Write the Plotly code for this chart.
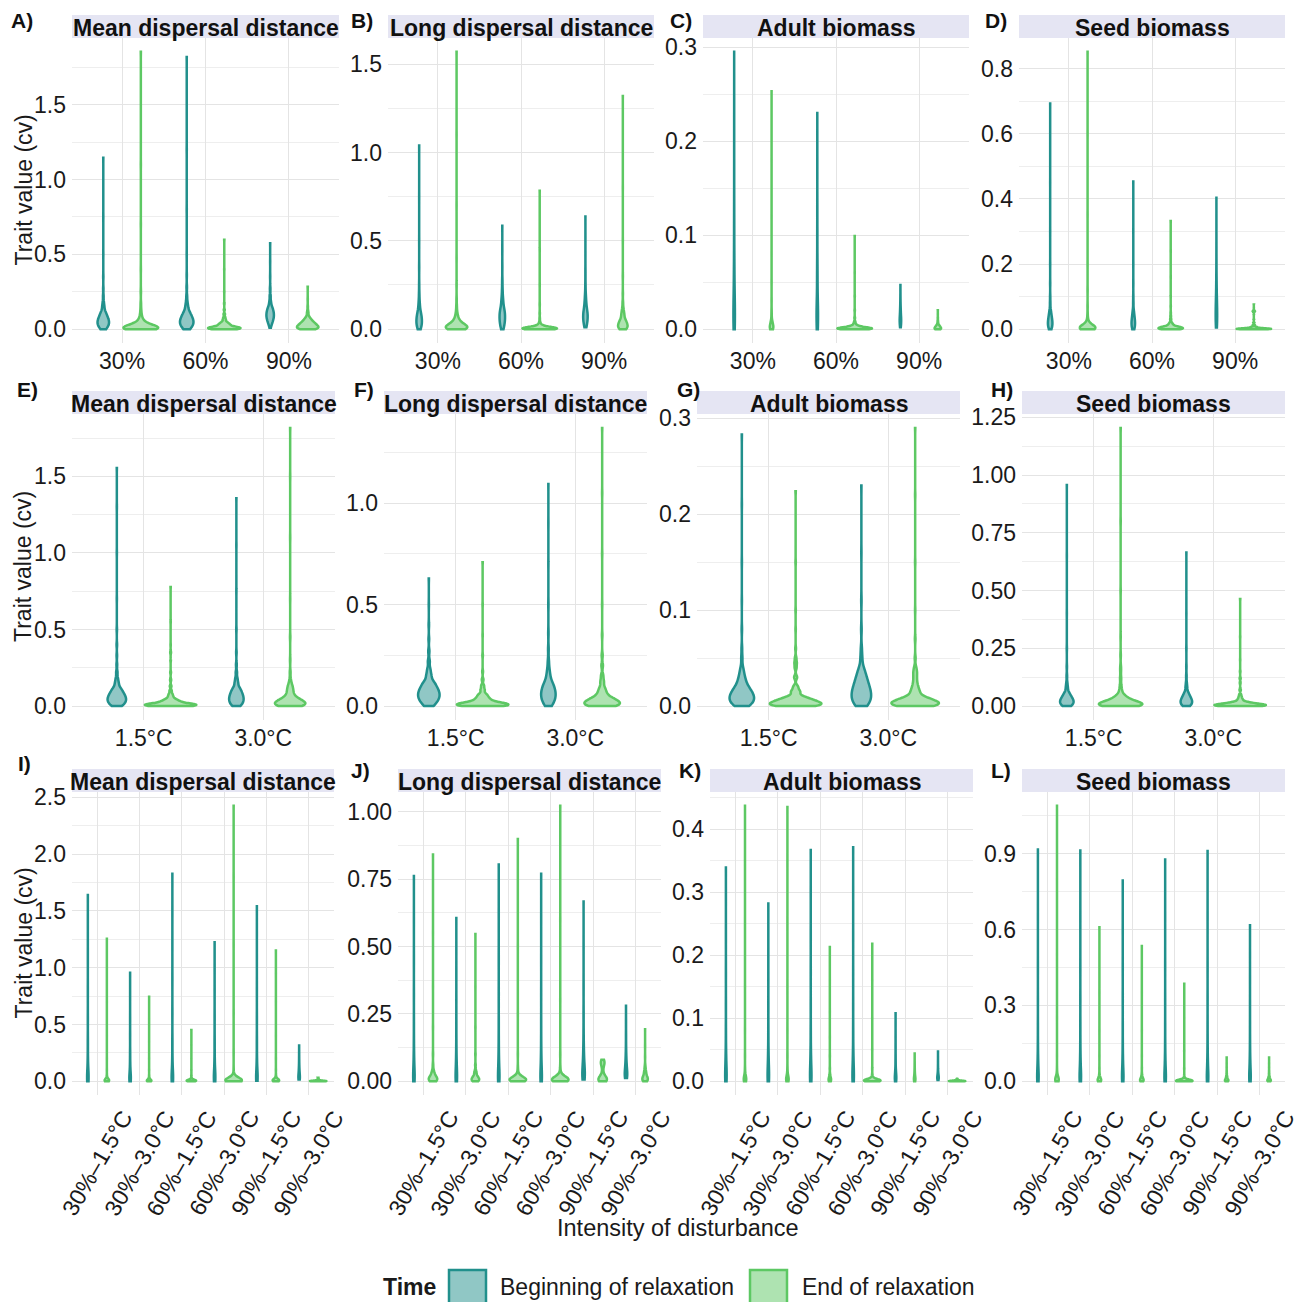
import numpy as np
import plotly.graph_objects as go

# ---------------------------------------------------------------- categories
DIST_CATS = ["30%", "60%", "90%"]
TEMP_CATS = ["1.5°C", "3.0°C"]
COMB_CATS = ["30%–1.5°C", "30%–3.0°C", "60%–1.5°C", "60%–3.0°C", "90%–1.5°C", "90%–3.0°C"]
TRAITS = ["Mean dispersal distance", "Long dispersal distance", "Adult biomass", "Seed biomass"]
TIMES = ["Beginning of relaxation", "End of relaxation"]

# ---------------------------------------------------------------- data: trait cv values (value levels + counts), one list per category
# Row 1 : disturbance intensity
A_BEGIN_VALS = [[0.00,0.02,0.04,0.06,0.08,0.10,0.12,0.15,0.18,0.22,0.27,0.35,0.5,0.75,1.146],
                [0.00,0.02,0.04,0.06,0.08,0.10,0.12,0.15,0.18,0.22,0.28,0.36,0.5,0.8,1.2,1.82],
                [0.01,0.03,0.05,0.07,0.09,0.11,0.13,0.15,0.18,0.22,0.27,0.35,0.45,0.575]]
A_BEGIN_CNTS = [[25,40,48,45,36,26,18,14,8,5,3,2,1,1,1],
                [25,40,48,46,38,28,20,15,9,6,4,2,1,1,1,1],
                [6,14,24,32,36,34,28,20,14,9,5,2,1,1]]
A_END_VALS = [[0,0.005,0.01,0.015,0.02,0.03,0.04,0.05,0.065,0.08,0.1,0.13,0.17,0.25,0.4,0.7,1.1,1.854],
              [0,0.005,0.01,0.015,0.02,0.03,0.04,0.05,0.065,0.08,0.1,0.13,0.17,0.25,0.4,0.597],
              [0,0.01,0.02,0.03,0.04,0.05,0.06,0.07,0.08,0.1,0.12,0.15,0.2,0.283]]
A_END_CNTS = [[60,55,40,28,20,24,14,9,8,6,5,4,3,2,1,1,1,1],
              [50,50,42,34,26,34,22,14,12,8,6,4,2,1,1,1],
              [40,42,38,32,26,20,15,11,8,7,4,2,1,1]]

B_BEGIN_VALS = [[0,0.02,0.04,0.06,0.08,0.1,0.13,0.16,0.2,0.25,0.35,0.5,0.75,1.04],
                [0,0.02,0.04,0.06,0.08,0.1,0.12,0.15,0.18,0.22,0.27,0.35,0.45,0.585],
                [0.01,0.03,0.05,0.07,0.09,0.11,0.14,0.17,0.2,0.25,0.32,0.42,0.52,0.638]]
B_BEGIN_CNTS = [[20,30,34,32,26,20,14,9,6,3,2,1,1,1],
                [14,22,28,30,30,27,22,17,12,8,5,2,1,1],
                [12,22,28,30,28,24,18,12,8,5,3,1,1,1]]
B_END_VALS = [[0,0.005,0.01,0.015,0.02,0.03,0.04,0.05,0.065,0.08,0.1,0.13,0.17,0.25,0.4,0.7,1.1,1.57],
              [0,0.002,0.004,0.006,0.008,0.01,0.015,0.02,0.03,0.04,0.06,0.09,0.14,0.25,0.45,0.784],
              [0,0.01,0.02,0.03,0.04,0.05,0.06,0.08,0.1,0.12,0.15,0.2,0.3,0.5,0.8,1.32]]
B_END_CNTS = [[45,48,42,34,26,32,22,15,12,9,7,5,3,2,1,1,1,1],
              [70,75,60,45,32,22,25,14,10,6,4,3,2,1,1,1],
              [30,34,32,28,24,20,16,22,14,9,6,3,2,1,1,1]]

C_BEGIN_VALS = [[0,0.01,0.02,0.03,0.05,0.07,0.1,0.13,0.17,0.21,0.25,0.295],
                [0,0.01,0.02,0.03,0.05,0.07,0.1,0.13,0.17,0.2,0.23],
                [0.002,0.005,0.008,0.011,0.014,0.018,0.022,0.027,0.033,0.04,0.047]]
C_BEGIN_CNTS = [[20,25,22,18,15,12,9,6,4,3,2,1],
                [20,25,22,18,15,12,8,5,3,2,1],
                [10,16,18,18,16,13,10,7,4,2,1]]
C_END_VALS = [[0,0.002,0.004,0.006,0.008,0.01,0.015,0.02,0.03,0.05,0.08,0.12,0.18,0.253],
              [0,0.0005,0.001,0.0015,0.002,0.003,0.004,0.006,0.008,0.012,0.02,0.035,0.06,0.099],
              [0,0.001,0.002,0.003,0.004,0.005,0.007,0.009,0.012,0.016,0.02]]
C_END_CNTS = [[40,38,30,22,15,10,8,5,3,2,1,1,1,1],
              [80,80,65,48,34,36,20,14,8,5,3,2,1,1],
              [40,38,32,24,17,11,8,5,3,1,1]]

D_BEGIN_VALS = [[0,0.01,0.02,0.03,0.04,0.05,0.06,0.08,0.1,0.14,0.2,0.3,0.45,0.693],
                [0,0.01,0.02,0.03,0.04,0.05,0.06,0.08,0.1,0.14,0.2,0.3,0.454],
                [0.005,0.02,0.04,0.06,0.08,0.1,0.13,0.16,0.2,0.25,0.32,0.404]]
D_BEGIN_CNTS = [[25,38,40,34,26,18,12,8,5,3,2,1,1,1],
                [25,38,40,34,26,18,12,8,5,3,2,1,1],
                [12,18,20,18,15,12,9,6,4,2,1,1]]
D_END_VALS = [[0,0.002,0.004,0.006,0.008,0.01,0.015,0.02,0.03,0.045,0.07,0.12,0.2,0.35,0.6,0.852],
              [0,0.002,0.004,0.006,0.008,0.01,0.015,0.02,0.03,0.04,0.05,0.07,0.1,0.16,0.24,0.332],
              [0,0.001,0.002,0.003,0.004,0.006,0.008,0.012,0.02,0.03,0.045,0.052,0.055,0.058,0.065,0.076]]
D_END_CNTS = [[50,50,40,30,22,16,18,10,7,4,3,2,1,1,1,1],
              [60,60,48,36,26,18,20,12,8,5,3,2,1,1,1,1],
              [80,80,60,42,28,30,16,10,6,3,2,5,10,5,1,1]]

# Row 2 : warming scenario
E_BEGIN_VALS = [[0,0.02,0.04,0.06,0.08,0.1,0.12,0.15,0.18,0.22,0.27,0.33,0.4,0.5,0.7,1.0,1.3,1.555],
                [0,0.02,0.04,0.06,0.08,0.1,0.12,0.15,0.18,0.22,0.27,0.35,0.5,0.75,1.05,1.356]]
E_BEGIN_CNTS = [[30,45,52,48,40,30,22,16,10,7,4,3,3,2,1,1,1,1],
                [28,42,48,46,40,32,24,18,12,8,5,3,2,1,1,1]]
E_END_VALS = [[0,0.005,0.01,0.015,0.02,0.03,0.04,0.05,0.065,0.08,0.1,0.13,0.17,0.22,0.3,0.35,0.4,0.55,0.777],
              [0,0.01,0.02,0.03,0.04,0.05,0.06,0.08,0.1,0.12,0.14,0.17,0.22,0.3,0.45,0.7,1.1,1.5,1.816]]
E_END_CNTS = [[60,62,50,40,30,36,25,16,14,10,8,6,4,3,2,3,1,1,1],
              [42,46,40,32,25,18,14,16,14,13,10,6,4,2,2,1,1,1,1]]

F_BEGIN_VALS = [[0,0.02,0.04,0.06,0.08,0.1,0.12,0.15,0.18,0.22,0.27,0.33,0.4,0.5,0.629],
                [0,0.02,0.04,0.06,0.08,0.1,0.12,0.15,0.18,0.22,0.28,0.36,0.5,0.7,0.9,1.095]]
F_BEGIN_CNTS = [[22,38,48,50,44,34,26,18,12,8,5,3,2,1,1],
                [22,36,44,46,42,34,26,18,12,8,5,3,2,1,1,1]]
F_END_VALS = [[0,0.005,0.01,0.015,0.02,0.03,0.04,0.05,0.06,0.08,0.1,0.13,0.17,0.25,0.35,0.5,0.709],
              [0,0.01,0.02,0.03,0.04,0.05,0.07,0.09,0.12,0.15,0.2,0.25,0.35,0.5,0.75,1.05,1.371]]
F_END_CNTS = [[60,62,50,38,28,30,22,18,16,14,10,6,3,2,1,1,1],
              [45,50,42,32,24,18,20,14,12,8,6,4,2,1,1,1,1]]

G_BEGIN_VALS = [[0,0.004,0.008,0.012,0.016,0.02,0.025,0.03,0.035,0.04,0.05,0.06,0.08,0.11,0.15,0.21,0.283],
                [0,0.005,0.01,0.015,0.02,0.025,0.03,0.035,0.04,0.05,0.06,0.08,0.11,0.16,0.23]]
G_BEGIN_CNTS = [[30,42,46,42,34,26,20,14,10,7,5,3,2,1,1,1,1],
                [28,38,42,40,34,28,22,17,12,8,5,3,2,1,1]]
G_END_VALS = [[0,0.002,0.004,0.006,0.008,0.01,0.015,0.02,0.03,0.04,0.045,0.05,0.06,0.08,0.1,0.15,0.224],
              [0,0.002,0.004,0.006,0.008,0.01,0.015,0.02,0.025,0.03,0.035,0.04,0.05,0.07,0.1,0.15,0.22,0.29]]
G_END_CNTS = [[55,58,48,36,27,20,22,12,8,5,6,4,2,1,1,1,1],
              [50,55,46,35,26,20,22,14,9,8,9,6,3,2,1,1,1,1]]

H_BEGIN_VALS = [[0,0.01,0.02,0.03,0.04,0.05,0.06,0.08,0.1,0.13,0.17,0.25,0.4,0.65,0.957],
                [0,0.01,0.02,0.03,0.04,0.05,0.06,0.08,0.1,0.13,0.17,0.25,0.4,0.665]]
H_BEGIN_CNTS = [[32,44,46,40,30,22,16,14,8,5,3,2,1,1,1],
                [32,44,46,40,30,22,16,14,8,5,3,2,1,1]]
H_END_VALS = [[0,0.005,0.01,0.015,0.02,0.03,0.04,0.05,0.07,0.09,0.12,0.15,0.17,0.22,0.3,0.5,0.8,1.204],
              [0,0.003,0.006,0.009,0.012,0.015,0.02,0.03,0.04,0.05,0.07,0.1,0.12,0.15,0.2,0.3,0.463]]
H_END_CNTS = [[55,55,44,34,25,28,17,11,8,5,5,3,3,2,1,1,1,1],
              [65,66,54,40,30,22,24,16,10,7,5,3,4,2,1,1,1]]

# Row 3 : disturbance x warming
I_BEGIN_VALS = [[0,0.02,0.05,0.1,0.2,0.35,0.55,0.8,1.1,1.4,1.64],
                [0,0.02,0.04,0.08,0.15,0.25,0.4,0.55,0.75,0.956],
                [0,0.02,0.05,0.1,0.2,0.35,0.6,0.9,1.2,1.5,1.828],
                [0,0.02,0.05,0.1,0.2,0.35,0.55,0.8,1.0,1.224],
                [0.005,0.02,0.05,0.1,0.2,0.35,0.55,0.8,1.1,1.3,1.54],
                [0.015,0.03,0.05,0.08,0.11,0.15,0.2,0.25,0.315]]
I_BEGIN_CNTS = [[12,14,12,10,7,5,3,2,1,1,1],
                [12,14,12,10,7,5,3,2,1,1],
                [12,14,12,10,7,5,3,2,1,1,1],
                [12,14,12,10,7,5,3,2,1,1],
                [12,14,12,10,7,5,3,2,1,1,1],
                [12,14,12,10,7,5,3,2,1]]
I_END_VALS = [[0,0.005,0.01,0.015,0.02,0.03,0.05,0.1,0.2,0.4,0.7,1.0,1.254],
              [0,0.005,0.01,0.015,0.02,0.03,0.05,0.1,0.2,0.35,0.55,0.743],
              [0,0.004,0.008,0.012,0.016,0.02,0.03,0.05,0.1,0.2,0.32,0.452],
              [0,0.004,0.008,0.012,0.016,0.02,0.03,0.05,0.1,0.25,0.6,1.2,1.8,2.426],
              [0,0.005,0.01,0.015,0.02,0.03,0.05,0.1,0.2,0.4,0.7,0.95,1.152],
              [0,0.002,0.004,0.006,0.008,0.01,0.014,0.018,0.022,0.026,0.03]]
I_END_CNTS = [[40,38,30,20,13,10,5,3,2,1,1,1,1],
              [40,38,30,20,13,10,5,3,2,1,1,1],
              [45,45,36,26,17,11,7,4,2,1,1,1],
              [50,50,40,28,18,12,7,4,2,1,1,1,1,1],
              [40,38,30,20,13,10,5,3,2,1,1,1,1],
              [40,40,30,20,12,8,5,4,4,3,2]]

J_BEGIN_VALS = [[0,0.01,0.02,0.04,0.07,0.1,0.15,0.22,0.32,0.45,0.6,0.761],
                [0,0.01,0.02,0.04,0.07,0.1,0.15,0.22,0.3,0.4,0.5,0.606],
                [0,0.01,0.02,0.04,0.07,0.1,0.15,0.22,0.32,0.45,0.62,0.804],
                [0,0.01,0.02,0.04,0.07,0.1,0.15,0.22,0.32,0.45,0.6,0.77],
                [0.006,0.015,0.03,0.05,0.07,0.1,0.13,0.18,0.25,0.35,0.5,0.667],
                [0.012,0.02,0.03,0.045,0.06,0.08,0.1,0.13,0.17,0.22,0.28]]
J_BEGIN_CNTS = [[14,16,16,14,11,8,6,4,3,2,1,1],
                [14,16,16,14,11,8,6,4,3,2,1,1],
                [14,16,16,14,11,8,6,4,3,2,1,1],
                [14,16,16,14,11,8,6,4,3,2,1,1],
                [14,16,16,14,11,8,6,4,3,2,1,1],
                [14,16,16,14,11,8,6,4,3,2,1]]
J_END_VALS = [[0,0.005,0.01,0.015,0.02,0.03,0.04,0.06,0.1,0.2,0.35,0.55,0.841],
              [0,0.005,0.01,0.015,0.02,0.03,0.04,0.06,0.1,0.2,0.35,0.546],
              [0,0.003,0.006,0.009,0.012,0.016,0.02,0.03,0.05,0.1,0.25,0.5,0.899],
              [0,0.003,0.006,0.009,0.012,0.016,0.02,0.03,0.05,0.1,0.3,0.6,1.022],
              [0,0.005,0.01,0.015,0.02,0.03,0.04,0.05,0.06,0.065,0.07,0.075,0.08],
              [0,0.005,0.01,0.015,0.02,0.03,0.04,0.05,0.06,0.09,0.13,0.193]]
J_END_CNTS = [[35,36,32,26,20,22,12,7,4,2,1,1,1],
              [35,36,32,26,20,22,12,7,4,2,1,1],
              [50,52,44,34,25,18,12,8,4,2,1,1,1],
              [50,52,44,34,25,18,12,8,4,2,1,1,1],
              [30,30,24,16,10,6,4,5,8,10,12,10,6],
              [30,32,30,26,22,26,16,10,6,3,2,1]]

K_BEGIN_VALS = [[0,0.005,0.01,0.02,0.035,0.05,0.08,0.12,0.17,0.23,0.29,0.339],
                [0,0.005,0.01,0.02,0.035,0.05,0.08,0.12,0.16,0.2,0.24,0.282],
                [0,0.005,0.01,0.02,0.035,0.05,0.08,0.12,0.17,0.23,0.3,0.367],
                [0,0.005,0.01,0.02,0.035,0.05,0.08,0.12,0.17,0.23,0.3,0.371],
                [0,0.003,0.006,0.01,0.015,0.02,0.03,0.04,0.055,0.07,0.09,0.108],
                [0.002,0.004,0.006,0.008,0.01,0.013,0.016,0.02,0.025,0.031,0.038,0.047]]
K_BEGIN_CNTS = [[14,16,16,14,11,8,6,4,3,2,1,1]] * 6
K_END_VALS = [[0,0.002,0.004,0.006,0.008,0.012,0.02,0.04,0.08,0.15,0.25,0.35,0.437],
              [0,0.002,0.004,0.006,0.008,0.012,0.02,0.04,0.08,0.15,0.25,0.35,0.435],
              [0,0.002,0.004,0.006,0.008,0.012,0.02,0.04,0.07,0.11,0.16,0.213],
              [0,0.0005,0.001,0.0015,0.002,0.003,0.004,0.006,0.01,0.02,0.05,0.1,0.16,0.218],
              [0,0.002,0.004,0.006,0.009,0.012,0.016,0.02,0.025,0.03,0.037,0.044],
              [0,0.0003,0.0006,0.0009,0.0012,0.0016,0.002,0.0025,0.003,0.0035,0.004]]
K_END_CNTS = [[30,30,26,20,15,12,8,5,3,2,1,1,1],
              [30,30,26,20,15,12,8,5,3,2,1,1,1],
              [30,30,26,20,15,12,8,5,3,2,1,1],
              [60,60,48,36,26,24,14,10,6,3,2,1,1,1],
              [14,16,16,14,11,8,6,4,3,2,1,1],
              [40,40,32,24,16,12,8,6,4,4,3]]

L_BEGIN_VALS = [[0,0.01,0.02,0.04,0.07,0.1,0.15,0.22,0.32,0.45,0.65,0.916],
                [0,0.01,0.02,0.04,0.07,0.1,0.15,0.22,0.32,0.45,0.65,0.912],
                [0,0.01,0.02,0.04,0.07,0.1,0.15,0.22,0.32,0.45,0.6,0.794],
                [0,0.01,0.02,0.04,0.07,0.1,0.15,0.22,0.32,0.45,0.65,0.877],
                [0,0.01,0.02,0.04,0.07,0.1,0.15,0.22,0.32,0.45,0.65,0.91],
                [0,0.01,0.02,0.04,0.07,0.1,0.15,0.22,0.3,0.4,0.5,0.617]]
L_BEGIN_CNTS = [[14,16,16,14,11,8,6,4,3,2,1,1]] * 6
L_END_VALS = [[0,0.003,0.006,0.01,0.015,0.02,0.03,0.05,0.1,0.25,0.5,0.8,1.089],
              [0,0.003,0.006,0.01,0.015,0.02,0.03,0.05,0.1,0.2,0.35,0.609],
              [0,0.003,0.006,0.01,0.015,0.02,0.03,0.05,0.1,0.2,0.35,0.535],
              [0,0.001,0.002,0.003,0.004,0.006,0.008,0.012,0.02,0.05,0.12,0.25,0.385],
              [0,0.003,0.006,0.01,0.015,0.02,0.03,0.04,0.055,0.07,0.094],
              [0,0.003,0.006,0.01,0.015,0.02,0.03,0.04,0.055,0.07,0.094]]
L_END_CNTS = [[35,36,32,26,20,14,9,5,3,2,1,1,1],
              [35,36,32,26,20,14,9,5,3,2,1,1],
              [35,36,32,26,20,14,9,5,3,2,1,1],
              [60,60,48,36,26,24,14,10,6,3,2,1,1],
              [35,36,32,26,20,14,9,5,3,2,1],
              [35,36,32,26,20,14,9,5,3,2,1]]

# ---------------------------------------------------------------- style: violin max widths (px, incl. outline)
A_W = ([14, 16, 10], [37, 35, 24])
B_W = ([8, 8, 7], [24, 37, 12])
C_W = ([4, 4, 4], [6, 37, 9])
D_W = ([7, 6, 4], [18, 27, 37])
E_W = ([21, 17], [54, 33])
F_W = ([24, 17], [54, 38])
G_W = ([27, 22], [54, 50])
H_W = ([16, 14], [46, 54])
I_W = ([4, 4, 4, 4, 4, 4], [7, 7, 12, 19, 9, 19])
J_W = ([4, 4, 4, 4, 5, 5], [11, 10, 19, 19, 11, 8])
K_W = ([4, 4, 4, 4, 4, 4], [5, 5, 5, 19, 4, 19])
L_W = ([4, 4, 4, 4, 4, 4], [6, 6, 6, 19, 6, 6])

# ---------------------------------------------------------------- style / layout
WIDTH, HEIGHT = 1300, 1302
FONT = "Liberation Sans, Arial, Helvetica, sans-serif"
TXT = "#1a1a1a"
TEAL, GREEN = "#21908C", "#5DC863"
TEAL_FILL, GREEN_FILL = "rgba(33,144,140,0.5)", "rgba(93,200,99,0.5)"
STRIP_BG = "#e5e5f3"
GRID = "#e4e4e4"
MINOR_GRID = "#eeeeee"
LINE_W = 2.5
TICK_SIZE = 23

ROW_Y = [(38, 343), (414, 720), (792, 1095)]
COL_X = [[(72, 339), (388, 654), (703, 969), (1019, 1285)],
         [(72, 335), (384, 647), (697, 960), (1022, 1285)],
         [(72, 334), (398, 661), (710, 973), (1022, 1285)]]
STRIP_H = 23
LETTER_POS = [[(22, 21), (362, 21), (681, 21), (996, 21)],
              [(27, 389), (364, 389), (688, 389), (1002, 389)],
              [(24, 763), (360, 770), (690, 770), (1001, 770)]]

PANELS = [
    ("A", 0, DIST_CATS, A_BEGIN_VALS, A_BEGIN_CNTS, A_END_VALS, A_END_CNTS, A_W, 0.5, ".1f"),
    ("B", 1, DIST_CATS, B_BEGIN_VALS, B_BEGIN_CNTS, B_END_VALS, B_END_CNTS, B_W, 0.5, ".1f"),
    ("C", 2, DIST_CATS, C_BEGIN_VALS, C_BEGIN_CNTS, C_END_VALS, C_END_CNTS, C_W, 0.1, ".1f"),
    ("D", 3, DIST_CATS, D_BEGIN_VALS, D_BEGIN_CNTS, D_END_VALS, D_END_CNTS, D_W, 0.2, ".1f"),
    ("E", 0, TEMP_CATS, E_BEGIN_VALS, E_BEGIN_CNTS, E_END_VALS, E_END_CNTS, E_W, 0.5, ".1f"),
    ("F", 1, TEMP_CATS, F_BEGIN_VALS, F_BEGIN_CNTS, F_END_VALS, F_END_CNTS, F_W, 0.5, ".1f"),
    ("G", 2, TEMP_CATS, G_BEGIN_VALS, G_BEGIN_CNTS, G_END_VALS, G_END_CNTS, G_W, 0.1, ".1f"),
    ("H", 3, TEMP_CATS, H_BEGIN_VALS, H_BEGIN_CNTS, H_END_VALS, H_END_CNTS, H_W, 0.25, ".2f"),
    ("I", 0, COMB_CATS, I_BEGIN_VALS, I_BEGIN_CNTS, I_END_VALS, I_END_CNTS, I_W, 0.5, ".1f"),
    ("J", 1, COMB_CATS, J_BEGIN_VALS, J_BEGIN_CNTS, J_END_VALS, J_END_CNTS, J_W, 0.25, ".2f"),
    ("K", 2, COMB_CATS, K_BEGIN_VALS, K_BEGIN_CNTS, K_END_VALS, K_END_CNTS, K_W, 0.1, ".1f"),
    ("L", 3, COMB_CATS, L_BEGIN_VALS, L_BEGIN_CNTS, L_END_VALS, L_END_CNTS, L_W, 0.3, ".1f"),
]

DODGE = 0.225


def px_x(v):
    return v / WIDTH


def px_y(v):
    return 1 - v / HEIGHT


fig = go.Figure()
layout = {}
annotations = []
shapes = []

for k, (letter, trait_i, cats, bv, bc, ev, ec, widths, dtick, fmt) in enumerate(PANELS):
    row = k // 4
    col = k % 4
    idx = k + 1
    xname = "x" if idx == 1 else f"x{idx}"
    yname = "y" if idx == 1 else f"y{idx}"
    left, right = COL_X[row][col]
    top, bottom = ROW_Y[row]
    n = len(cats)
    ppu = (right - left) / (n + 0.2)

    all_vals = []
    groups = [(bv, bc, widths[0], TEAL, TEAL_FILL, -DODGE, TIMES[0]),
              (ev, ec, widths[1], GREEN, GREEN_FILL, DODGE, TIMES[1])]
    for vals, cnts, wl, col_line, col_fill, off, tname in groups:
        for i in range(n):
            s = np.repeat(np.array(vals[i], float), np.array(cnts[i], int))
            all_vals.append(s)
            fig.add_trace(go.Violin(
                x=np.full(len(s), i + 1 + off), y=s,
                xaxis=xname, yaxis=yname, name=tname,
                width=max(wl[i] - LINE_W, 1.0) / ppu,
                spanmode="hard", points=False, scalemode="width",
                line=dict(color=col_line, width=LINE_W), fillcolor=col_fill,
                box_visible=False, meanline_visible=False,
                showlegend=False, hoverinfo="skip", orientation="v"))
    allv = np.concatenate(all_vals)
    lo, hi = float(allv.min()), float(allv.max())
    pad = 0.05 * (hi - lo)

    layout["xaxis" if idx == 1 else f"xaxis{idx}"] = dict(
        domain=[px_x(left), px_x(right)], anchor=yname,
        range=[0.4, n + 0.6], tickmode="array",
        tickvals=list(range(1, n + 1)), ticktext=cats,
        showgrid=True, gridcolor=GRID, gridwidth=1.4, zeroline=False,
        showline=False, ticks="", showticklabels=(row < 2),
        tickfont=dict(size=TICK_SIZE, color=TXT, family=FONT),
        ticklabelstandoff=2, fixedrange=True)
    layout["yaxis" if idx == 1 else f"yaxis{idx}"] = dict(
        domain=[px_y(bottom), px_y(top)], anchor=xname,
        range=[lo - pad, hi + pad], tickmode="linear", tick0=0, dtick=dtick,
        tickformat=fmt, showgrid=True, gridcolor=GRID, gridwidth=1.4,
        minor=dict(dtick=dtick / 2, tick0=0, showgrid=True, gridcolor=MINOR_GRID, gridwidth=1),
        zeroline=False, showline=False, ticks="",
        tickfont=dict(size=TICK_SIZE, color=TXT, family=FONT),
        ticklabelstandoff=5, fixedrange=True)

    # strip
    shapes.append(dict(type="rect", xref="paper", yref="paper",
                       x0=px_x(left), x1=px_x(right), y0=px_y(top), y1=px_y(top - STRIP_H),
                       fillcolor=STRIP_BG, line=dict(width=0), layer="below"))
    annotations.append(dict(xref="paper", yref="paper", x=px_x((left + right) / 2),
                            y=px_y(top - STRIP_H / 2 + 1), text=f"<b>{TRAITS[trait_i]}</b>",
                            showarrow=False, xanchor="center", yanchor="middle",
                            font=dict(size=23, color="#111111", family=FONT)))
    lx, ly = LETTER_POS[row][col]
    annotations.append(dict(xref="paper", yref="paper", x=px_x(lx), y=px_y(ly),
                            text=f"<b>{letter})</b>", showarrow=False,
                            xanchor="center", yanchor="middle",
                            font=dict(size=21, color="#111111", family=FONT)))
    if row == 2:
        for i, c in enumerate(cats):
            annotations.append(dict(xref=xname, yref="paper", x=i + 1, y=px_y(1163),
                                    text=c, textangle=-60, showarrow=False,
                                    xanchor="center", yanchor="middle",
                                    font=dict(size=TICK_SIZE, color=TXT, family=FONT)))

# y-axis titles
for top, bottom in ROW_Y:
    annotations.append(dict(xref="paper", yref="paper", x=px_x(23), y=px_y((top + bottom) / 2),
                            text="Trait value (cv)", textangle=-90, showarrow=False,
                            xanchor="center", yanchor="middle",
                            font=dict(size=23, color=TXT, family=FONT)))
# x-axis title
annotations.append(dict(xref="paper", yref="paper", x=px_x(678), y=px_y(1228),
                        text="Intensity of disturbance", showarrow=False,
                        xanchor="center", yanchor="middle",
                        font=dict(size=23.5, color=TXT, family=FONT)))

# legend
LEG_Y = 1287
annotations.append(dict(xref="paper", yref="paper", x=px_x(381), y=px_y(LEG_Y),
                        text="<b>Time</b>", showarrow=False, xanchor="left", yanchor="middle",
                        font=dict(size=23, color=TXT, family=FONT)))
for (bx0, bx1, tx, lc, fc, label) in [(449, 486, 498, TEAL, TEAL_FILL, TIMES[0]),
                                       (750, 787, 800, GREEN, GREEN_FILL, TIMES[1])]:
    shapes.append(dict(type="rect", xref="paper", yref="paper",
                       x0=px_x(bx0), x1=px_x(bx1), y0=px_y(1306), y1=px_y(1270),
                       fillcolor=fc, line=dict(color=lc, width=LINE_W)))
    annotations.append(dict(xref="paper", yref="paper", x=px_x(tx), y=px_y(LEG_Y),
                            text=label, showarrow=False, xanchor="left", yanchor="middle",
                            font=dict(size=23, color=TXT, family=FONT)))

fig.update_layout(
    width=WIDTH, height=HEIGHT,
    margin=dict(l=0, r=0, t=0, b=0, pad=0, autoexpand=False),
    paper_bgcolor="white", plot_bgcolor="white",
    font=dict(family=FONT, size=22, color=TXT),
    violinmode="overlay", showlegend=False,
    annotations=annotations, shapes=shapes, **layout)

fig.write_html("out.html")
